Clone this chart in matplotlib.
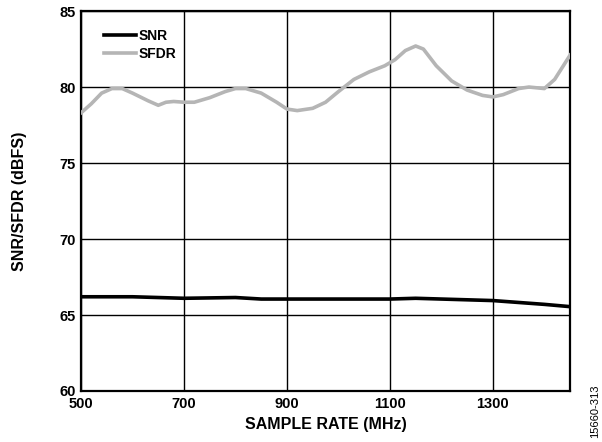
import matplotlib
matplotlib.use('Agg')
import matplotlib.pyplot as plt

# values
sfdr_x = [500, 520, 540, 560, 580, 600, 630, 650, 665, 680, 700, 720, 750, 780,
          800, 820, 850, 880, 900, 920, 950, 975, 1000, 1030, 1060, 1090, 1110,
          1130, 1150, 1165, 1190, 1220, 1250, 1280, 1300, 1320, 1350, 1370,
          1400, 1420, 1450]
sfdr_y = [78.3, 78.9, 79.6, 79.9, 79.9, 79.6, 79.1, 78.8, 79.0, 79.05, 79.0,
          79.0, 79.3, 79.7, 79.9, 79.9, 79.6, 79.0, 78.55, 78.45, 78.6, 79.0,
          79.7, 80.5, 81.0, 81.4, 81.8, 82.4, 82.7, 82.5, 81.4, 80.4, 79.8,
          79.45, 79.35, 79.5, 79.9, 80.0, 79.9, 80.5, 82.1]
snr_x = [500, 600, 700, 800, 850, 900, 1000, 1100, 1150, 1200, 1300, 1400, 1450]
snr_y = [66.2, 66.2, 66.1, 66.15, 66.05, 66.05, 66.05, 66.05, 66.1, 66.05,
         65.95, 65.7, 65.55]
xticks = [500, 700, 900, 1100, 1300]
yticks = [60, 65, 70, 75, 80, 85]

plt.rcParams['font.family'] = ['Liberation Sans', 'DejaVu Sans']

fig = plt.figure(figsize=(6.02, 4.42), dpi=100)
ax = fig.add_axes([0.1346, 0.1154, 0.947 - 0.1346, 0.975 - 0.1154])

ax.plot(snr_x, snr_y, color='black', lw=2.6, label='SNR', zorder=3)
ax.plot(sfdr_x, sfdr_y, color='#b5b5b5', lw=2.6, label='SFDR', zorder=3)

ax.set_xlim(500, 1450)
ax.set_ylim(60, 85)
ax.set_xticks(xticks)
ax.set_yticks(yticks)
ax.grid(True, color='black', lw=1.0)
ax.tick_params(length=0, labelsize=10.5, pad=4)
for lbl in ax.get_xticklabels() + ax.get_yticklabels():
    lbl.set_fontweight('bold')
for s in ax.spines.values():
    s.set_linewidth(1.6)

ax.set_xlabel('SAMPLE RATE (MHz)', fontsize=11.5, fontweight='bold', labelpad=5)
ax.set_ylabel('SNR/SFDR (dBFS)', fontsize=11.5, fontweight='bold', labelpad=23)

leg = ax.legend(loc='upper left', frameon=False,
                prop={'weight': 'bold', 'size': 10}, handlelength=2.3,
                handletextpad=0.2, labelspacing=0.25,
                bbox_to_anchor=(0.022, 0.985))

fig.text(0.988, 0.009, '15660-313', rotation=90, fontsize=8, ha='center', va='bottom')

fig.savefig('out.png', dpi=100)
